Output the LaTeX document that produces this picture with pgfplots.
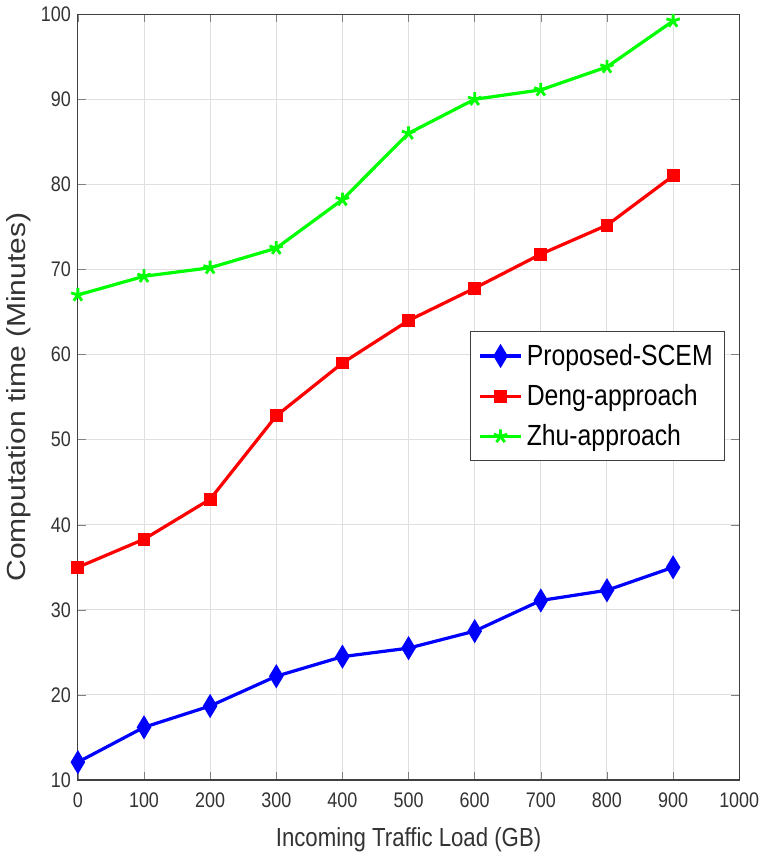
\documentclass[border=0pt]{standalone}
\usepackage{fontspec}
\setmainfont[FakeStretch=0.85]{Liberation Sans}
\usepackage{pgfplots}
\pgfplotsset{compat=1.18}
\begin{document}
\begin{tikzpicture}
\begin{axis}[
  width=329pt, height=381pt, scale only axis,
  xmin=0, xmax=1000, ymin=10, ymax=100,
  xtick={0,100,...,1000}, ytick={10,20,...,100},
  /pgf/number format/assume math mode=true,
  /pgf/number format/1000 sep={},
  tick label style={font=\fontsize{10.5}{12}\selectfont, text=black!80},
  xticklabel style={yshift=-3pt},
  grid=major, grid style={gray!25, line width=0.5pt},
  tick align=inside, tick pos=both,
  major tick length=4pt,
  axis line style={black!75, line width=0.6pt},
  xlabel={Incoming Traffic Load (GB)},
  ylabel={\addfontfeature{FakeStretch=1.15}Computation time (Minutes)},
  label style={font=\fontsize{13}{15}\selectfont, text=black!80},
  xlabel style={yshift=-3pt},
  ylabel style={yshift=-2pt},
  legend style={at={(0.979,0.586)}, anchor=north east, draw=black!75, line width=0.6pt,
    font=\fontsize{14.5}{17}\selectfont, row sep=4pt, inner sep=4pt},
  legend image code/.code={
    \draw[mark repeat=2,mark phase=2] plot coordinates {(0cm,0cm) (0.36cm,0cm) (0.72cm,0cm)};},
  legend cell align=left,
]
\addplot[blue, line width=1.6pt, mark=diamond*, mark size=4.5pt, mark options={xscale=0.8}] coordinates {
(0,12.1) (100,16.2) (200,18.7) (300,22.2) (400,24.5) (500,25.5) (600,27.5) (700,31.1) (800,32.3) (900,35.0)};
\addlegendentry{Proposed-SCEM}
\addplot[red, line width=1.6pt, mark=square*, mark size=2.4pt] coordinates {
(0,35.0) (100,38.3) (200,43.0) (300,52.8) (400,59.0) (500,64.0) (600,67.8) (700,71.8) (800,75.2) (900,81.0)};
\addlegendentry{Deng-approach}
\addplot[green, line width=1.6pt, mark=star, mark size=3.5pt, mark options={line width=1.4pt}] coordinates {
(0,67.0) (100,69.2) (200,70.2) (300,72.5) (400,78.2) (500,86.0) (600,90.0) (700,91.1) (800,93.8) (900,99.2)};
\addlegendentry{Zhu-approach}
\end{axis}
\end{tikzpicture}
\end{document}
